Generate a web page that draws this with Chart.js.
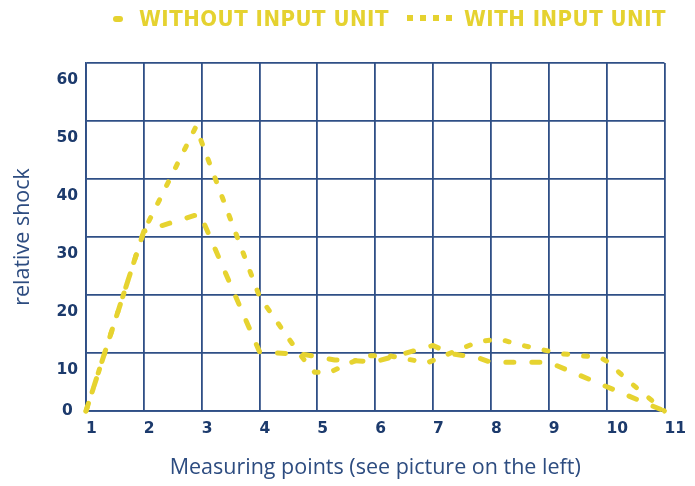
<!DOCTYPE html>
<html>
<head>
<meta charset="utf-8">
<script src="https://cdn.jsdelivr.net/npm/chart.js@4/dist/chart.umd.min.js"></script>
<style>
  body { margin: 0; background: #fff; }
  #wrap { position: relative; width: 695px; height: 486px; }
  #legend { position: absolute; top: 0; left: 0; width: 695px; height: 40px; }
  .lg-mark, .lg-text { position: absolute; }
  .lg-text {
    top: 6px;
    font: bold 22px 'DejaVu Sans Condensed', sans-serif;
    letter-spacing: 0.5px;
    color: #e5d230;
    line-height: 26px;
    white-space: nowrap;
  }
  .dash { position: absolute; height: 6px; background: #e5d230; }
</style>
</head>
<body>
<div id="wrap">
  <canvas id="chart" width="695" height="486"></canvas>
  <div id="legend">
    <div class="lg-mark" style="left:113px;top:16px"><span class="dash" style="left:0;width:10px;border-radius:3px"></span></div>
    <div class="lg-text" style="left:139px">WITHOUT INPUT UNIT</div>
    <div class="lg-mark" style="left:407px;top:15px">
      <span class="dash" style="left:0;width:6px"></span>
      <span class="dash" style="left:13px;width:6px"></span>
      <span class="dash" style="left:26px;width:6px"></span>
      <span class="dash" style="left:39px;width:6px"></span>
    </div>
    <div class="lg-text" style="left:464px">WITH INPUT UNIT</div>
  </div>
</div>
<script>
// Данные
const X_MIN = 1, X_MAX = 11;
const Y_MIN = 0, Y_MAX = 60, Y_STEP = 10;

const WITHOUT_X = [1, 2, 2.97, 4, 4.8, 5.3, 6.0, 7.0, 7.3, 7.8, 8.0, 9.0, 11];
const WITHOUT_Y = [0, 31, 34, 10.2, 9.7, 8.8, 8.5, 11.3, 9.9, 9.1, 8.4, 8.4, 0];

const WITH_X = [1, 2, 2.9, 4, 4.7, 4.95, 5.2, 5.5, 5.85, 6.2, 6.9, 7.4, 7.8, 8.15, 8.5, 9.2, 9.9, 10.0, 10.4, 11];
const WITH_Y = [0, 31, 49, 19.7, 9.7, 6.7, 6.6, 8.0, 9.5, 9.6, 8.3, 10.4, 12.0, 12.4, 11.4, 9.9, 9.2, 8.6, 5.0, 0];

const X_TITLE = 'Measuring points (see picture on the left)';
const Y_TITLE = 'relative shock';

// Цвета
const YELLOW = '#e6d330';
const NAVY   = '#1c3a6c';
const GRID   = '#2f4f86';
const TITLE  = '#2d4c80';

const toPoints = (xs, ys) => xs.map((x, i) => ({ x, y: ys[i] }));

const tickFont  = { family: "'DejaVu Sans', sans-serif", size: 15.5, weight: 'bold' };
const titleFont = { family: "'Open Sans', sans-serif", size: 21.5 };

new Chart(document.getElementById('chart'), {
  type: 'line',
  data: {
    datasets: [
      {
        label: 'WITHOUT INPUT UNIT',
        data: toPoints(WITHOUT_X, WITHOUT_Y),
        borderColor: YELLOW,
        borderWidth: 5,
        borderDash: [8, 18],
        borderCapStyle: 'round',
        borderJoinStyle: 'round',
        pointRadius: 0,
        tension: 0,
        clip: false,
      },
      {
        label: 'WITH INPUT UNIT',
        data: toPoints(WITH_X, WITH_Y),
        borderColor: YELLOW,
        borderWidth: 5,
        borderDash: [4, 16],
        borderCapStyle: 'round',
        borderJoinStyle: 'round',
        pointRadius: 0,
        tension: 0,
        clip: false,
      },
    ],
  },
  options: {
    responsive: false,
    animation: false,
    layout: { padding: { top: 63, right: 29, bottom: 0, left: 7 } },
    plugins: {
      legend: { display: false },
      tooltip: { enabled: false },
    },
    scales: {
      x: {
        type: 'linear',
        min: X_MIN,
        max: X_MAX,
        afterFit: s => { s.height = 75; },
        ticks: { stepSize: 1, align: 'start', padding: 9, color: NAVY, font: tickFont },
        grid: { color: GRID, lineWidth: 1.8, drawTicks: false },
        border: { color: GRID, width: 1.8 },
        title: { display: true, text: X_TITLE, color: TITLE, font: titleFont, padding: { top: 0, bottom: 5 } },
      },
      y: {
        min: Y_MIN,
        max: Y_MAX,
        weight: 1,
        afterFit: s => { s.width = 79; },
        ticks: {
          stepSize: Y_STEP,
          padding: 8,
          labelOffset: 17,
          color: NAVY,
          font: tickFont,
          callback: v => (v === 0 ? '' : v),
        },
        grid: { color: GRID, lineWidth: 1.8, drawTicks: false },
        border: { color: GRID, width: 1.8 },
        title: { display: true, text: Y_TITLE, color: TITLE, font: titleFont, padding: { top: 3, bottom: 0 } },
      },
      // отдельная ось только для подписи "0" (без смещения)
      y0: {
        position: 'left',
        min: Y_MIN,
        max: Y_MAX,
        weight: 0,
        afterFit: s => { s.width = 0; },
        ticks: {
          stepSize: Y_MAX,
          mirror: true,
          padding: -24,
          color: NAVY,
          font: tickFont,
          callback: v => (v === 0 ? '0' : ''),
        },
        grid: { display: false, drawTicks: false },
        border: { display: false },
      },
    },
  },
});
</script>
</body>
</html>
